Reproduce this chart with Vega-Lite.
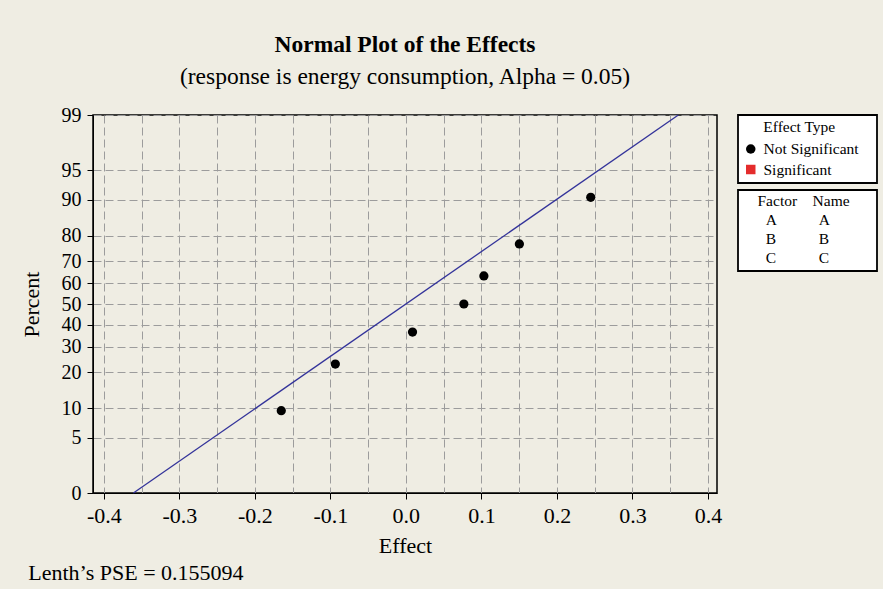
{
  "$schema": "https://vega.github.io/schema/vega-lite/v6.json",
  "background": "#EFEDE3",
  "padding": {"left": 19, "top": 32, "right": 5, "bottom": 5},
  "config": {
    "font": "Liberation Serif",
    "view": {"stroke": "black", "strokeWidth": 1.5, "fill": "white"},
    "axis": {
      "labelColor": "black", "titleColor": "black", "domainColor": "black", "tickColor": "black",
      "labelFont": "Liberation Serif", "titleFont": "Liberation Serif", "titleFontWeight": "normal",
      "labelFontSize": 21, "titleFontSize": 22, "gridColor": "#9C9C9C", "gridDash": [8, 4], "gridWidth": 1,
      "tickSize": 6, "tickWidth": 1, "domainWidth": 1
    },
    "legend": {
      "strokeColor": "black", "strokeWidth": 1.8, "fillColor": "white",
      "titleFont": "Liberation Serif", "labelFont": "Liberation Serif",
      "titleColor": "black", "labelColor": "black", "titleFontWeight": "normal",
      "titleFontSize": 15.5, "labelFontSize": 15.5
    },
    "title": {"font": "Liberation Serif", "color": "black", "subtitleFont": "Liberation Serif", "subtitleColor": "black"}
  },
  "title": {
    "text": "Lenth’s PSE = 0.155094", "orient": "bottom", "anchor": "start",
    "fontSize": 22, "fontWeight": "normal", "offset": 6, "dx": 9
  },
  "vconcat": [
    {
      "width": 624,
      "height": 378,
      "title": {
        "text": "Normal Plot of the Effects",
        "subtitle": "(response is energy consumption, Alpha = 0.05)",
        "anchor": "middle", "frame": "group",
        "fontSize": 23.5, "fontWeight": "bold",
        "subtitleFontSize": 23.5, "subtitlePadding": 8, "offset": 17
      },
      "layer": [
        {
          "data": {"values": [
            {"effect": -0.165, "score": -1.3128, "type": "Not Significant"},
            {"effect": -0.0934, "score": -0.7398, "type": "Not Significant"},
            {"effect": 0.0088, "score": -0.3455, "type": "Not Significant"},
            {"effect": 0.0768, "score": 0, "type": "Not Significant"},
            {"effect": 0.1033, "score": 0.3455, "type": "Not Significant"},
            {"effect": 0.1503, "score": 0.7398, "type": "Not Significant"},
            {"effect": 0.2448, "score": 1.3128, "type": "Not Significant"}
          ]},
          "mark": {"type": "point", "filled": true, "size": 85, "opacity": 1},
          "encoding": {
            "x": {
              "field": "effect", "type": "quantitative",
              "scale": {"domain": [-0.4143, 0.412], "nice": false, "zero": false},
              "axis": {
                "title": "Effect",
                "values": [-0.4, -0.35, -0.3, -0.25, -0.2, -0.15, -0.1, -0.05, 0, 0.05, 0.1, 0.15, 0.2, 0.25, 0.3, 0.35, 0.4],
                "tickCount": 40, "labelFontSize": 22,
                "labelExpr": "abs(round(datum.value * 20)) % 2 == 1 ? '' : replace(format(datum.value, '.1f'), '\u2212', '-')",
                "tickOpacity": {"condition": {"test": "abs(round(datum.value * 20)) % 2 == 1", "value": 0}, "value": 1},
                "labelOverlap": false, "labelFlush": false,
                "labelPadding": 6, "titlePadding": 9, "grid": true
              }
            },
            "y": {
              "field": "score", "type": "quantitative",
              "scale": {"domain": [-2.3263, 2.3263], "nice": false, "zero": false},
              "axis": {
                "title": "Percent",
                "values": [-2.3263, -1.6449, -1.2816, -0.8416, -0.5244, -0.2533, 0, 0.2533, 0.5244, 0.8416, 1.2816, 1.6449, 2.3263],
                "tickCount": 40, "labelFontSize": 20,
                "labelExpr": "datum.value < -2.3 ? '0' : format(cumulativeNormal(datum.value) * 100, '.0f')",
                "labelOverlap": false, "labelFlush": false,
                "labelPadding": 6, "titlePadding": 18, "grid": true
              }
            },
            "color": {
              "field": "type", "type": "nominal",
              "scale": {"domain": ["Not Significant", "Significant"], "range": ["black", "#E42C2C"]},
              "legend": {
                "title": "Effect Type\u2002\u2002\u200b", "orient": "none", "legendX": 645, "legendY": 0,
                "padding": 5, "titleAnchor": "middle", "titleAlign": "center", "titlePadding": 5.75,
                "labelOffset": 5, "symbolSize": 90, "symbolStrokeWidth": 0, "rowPadding": 3.5,
                "labelExpr": "datum.label + '\u2002\u2004\u200b'"
              }
            },
            "shape": {
              "field": "type", "type": "nominal",
              "scale": {"domain": ["Not Significant", "Significant"], "range": ["circle", "square"]},
              "legend": {
                "title": "Effect Type\u2002\u2002\u200b", "orient": "none", "legendX": 645, "legendY": 0,
                "padding": 5, "titleAnchor": "middle", "titleAlign": "center", "titlePadding": 5.75,
                "labelOffset": 5, "symbolSize": 90, "symbolStrokeWidth": 0, "rowPadding": 3.5,
                "labelExpr": "datum.label + '\u2002\u2004\u200b'"
              }
            }
          }
        },
        {
          "data": {"values": [
            {"effect": -0.3608, "score": -2.3263},
            {"effect": 0.3608, "score": 2.3263}
          ]},
          "mark": {"type": "line", "color": "#33339A", "strokeWidth": 1.3},
          "encoding": {
            "x": {"field": "effect", "type": "quantitative"},
            "y": {"field": "score", "type": "quantitative"}
          }
        },
        {
          "data": {"values": [
            {"factor": "A", "name": "A"},
            {"factor": "B", "name": "B"},
            {"factor": "C", "name": "C"}
          ]},
          "mark": {"type": "text", "text": ""},
          "encoding": {
            "opacity": {
              "field": "factor", "type": "ordinal",
              "legend": {
                "title": "\u200b\u2002\u2002Factor\u2002\u2002Name\u2002\u2002\u2002\u200b", "orient": "none", "legendX": 645, "legendY": 75,
                "padding": 4, "titleAnchor": "start", "titlePadding": 2.75,
                "labelOffset": 8.2, "symbolSize": 0, "symbolOpacity": 0, "symbolStrokeWidth": 0,
                "rowPadding": 2,
                "labelExpr": "datum.label + '\u2002\u2002\u2002\u2002\u2002 ' + datum.label"
              }
            }
          }
        }
      ]
    }
  ]
}
